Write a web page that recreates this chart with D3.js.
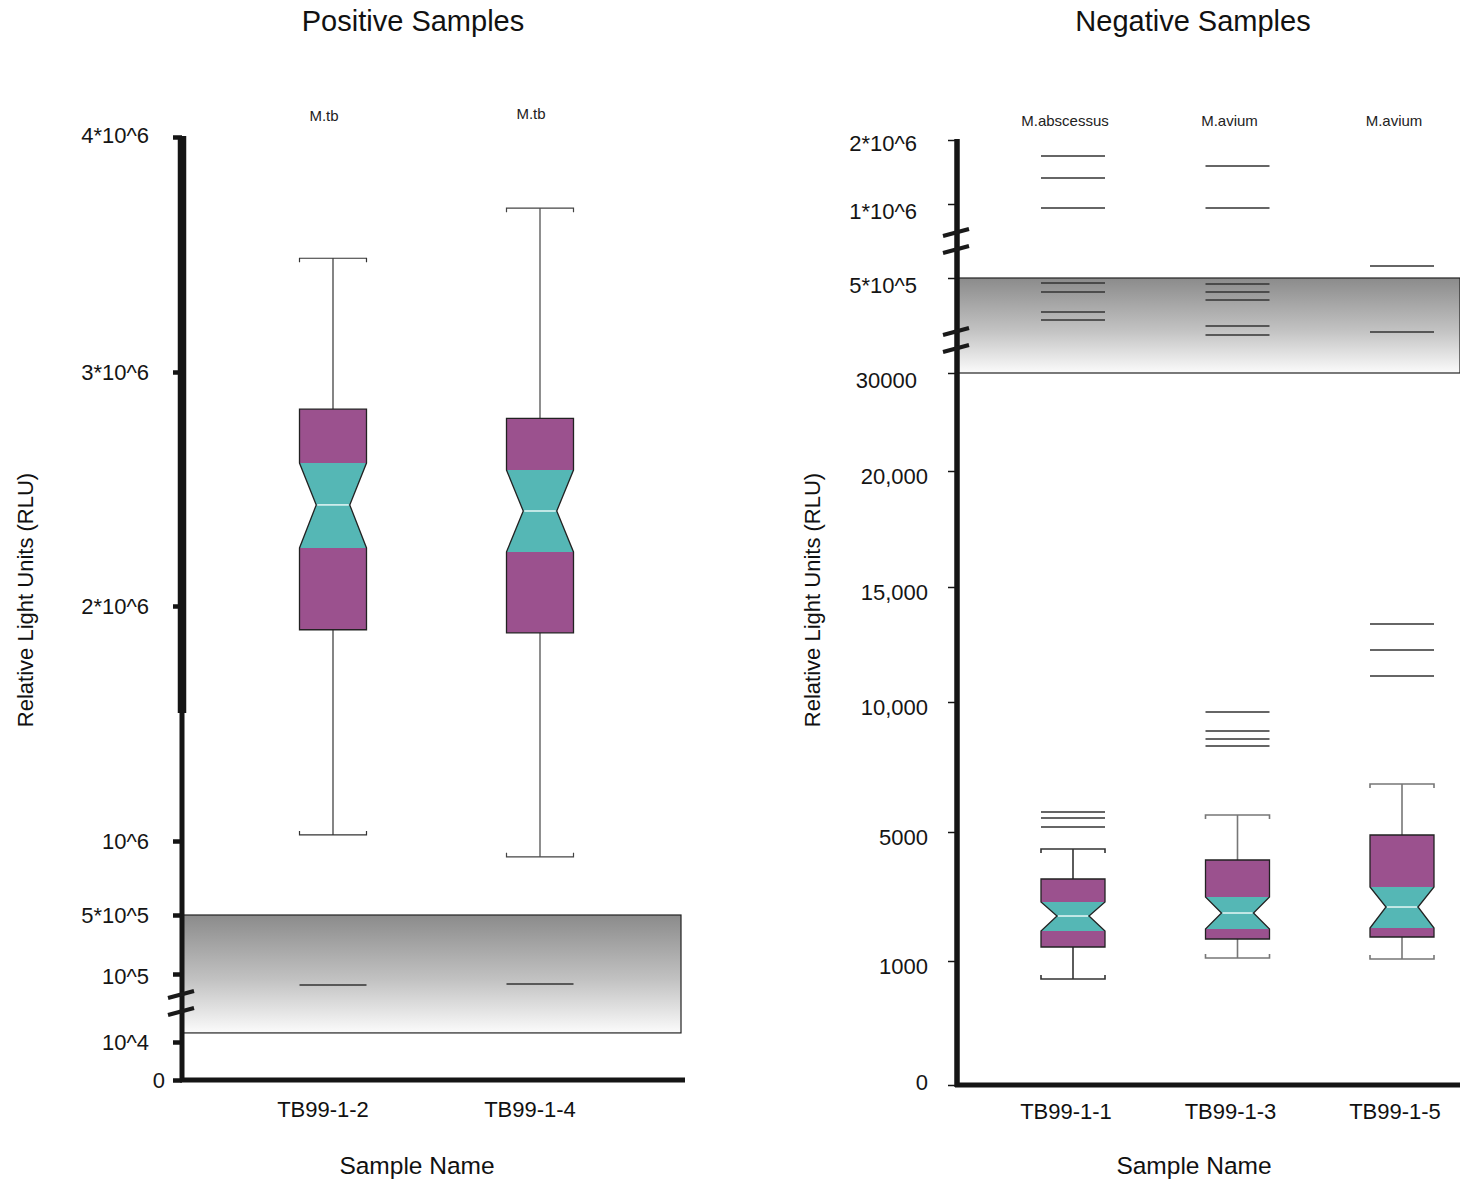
<!DOCTYPE html>
<html>
<head>
<meta charset="utf-8">
<script src="https://cdn.jsdelivr.net/npm/d3@7/dist/d3.min.js"></script>
<style>
  html, body { margin: 0; padding: 0; background: #fff; }
  svg { display: block; font-family: "Liberation Sans", Arial, sans-serif; }
</style>
</head>
<body>
<svg id="chart" width="1460" height="1180"></svg>
<script>
// ---------------- DATA ----------------
// Positive samples
const posSamples = ["TB99-1-2", "TB99-1-4"];
const posSpecies = ["M.tb", "M.tb"];
const posWhiskerLow  = [1026000, 893000];
const posQ1          = [1899000, 1886000];
const posNotchLow    = [2248000, 2231000];
const posMedian      = [2432000, 2406000];
const posNotchHigh   = [2611000, 2581000];
const posQ3          = [2841000, 2802000];
const posWhiskerHigh = [3484000, 3697000];
const posOutliers    = [[85400], [86800]];
const posTickValues  = [0, 10000, 100000, 500000, 1000000, 2000000, 3000000, 4000000];
const posTickLabels  = ["0", "10^4", "10^5", "5*10^5", "10^6", "2*10^6", "3*10^6", "4*10^6"];
const posBand        = [22000, 500000];
const posBreaks      = [60300];
const posThickAxis   = [1545000, 4000000];

// Negative samples
const negSamples = ["TB99-1-1", "TB99-1-3", "TB99-1-5"];
const negSpecies = ["M.abscessus", "M.avium", "M.avium"];
const negWhiskerLow  = [855, 1093, 1062];
const negQ1          = [1434, 1682, 1744];
const negNotchLow    = [1930, 1992, 2023];
const negMedian      = [2395, 2488, 2674];
const negNotchHigh   = [2829, 2984, 3295];
const negQ3          = [3543, 4132, 4907];
const negWhiskerHigh = [4473, 5654, 6846];
const negOutliers = [
  [5192, 5538, 5769, 292200, 331800, 430700, 475300, 973000, 1406000, 1750000],
  [8308, 8577, 8885, 9615, 218000, 262500, 391100, 430700, 470300, 973000, 1594000],
  [11130, 12261, 13391, 232800, 581000]
];
const negTickValues = [0, 1000, 5000, 10000, 15000, 20000, 30000, 500000, 1000000, 2000000];
const negTickLabels = ["0", "1000", "5000", "10,000", "15,000", "20,000", "30000", "5*10^5", "1*10^6", "2*10^6"];
const negBand   = [30000, 500000];
const negBreaks = [743000, 188300];

// ---------------- DRAWING ----------------
const svg = d3.select("#chart");
const defs = svg.append("defs");
const grad = defs.append("linearGradient").attr("id", "bandGrad")
  .attr("x1", 0).attr("y1", 0).attr("x2", 0).attr("y2", 1);
grad.append("stop").attr("offset", "0%").attr("stop-color", "#8b8b8b");
grad.append("stop").attr("offset", "55%").attr("stop-color", "#c2c2c2");
grad.append("stop").attr("offset", "100%").attr("stop-color", "#fbfbfb");

const PURPLE = "#9b518e";
const TEAL = "#55b7b5";

function drawPanel(cfg) {
  const g = svg.append("g");
  const y = d3.scaleLinear().domain(cfg.tickValues).range(cfg.yRange);
  const x = d3.scalePoint().domain(cfg.samples).range(cfg.xRange).padding(0);
  const ax = cfg.axisX;
  const halfW = cfg.boxWidth / 2;

  // gray band
  g.append("rect")
    .attr("x", ax).attr("y", y(cfg.band[1]))
    .attr("width", cfg.bandRight - ax)
    .attr("height", y(cfg.band[0]) - y(cfg.band[1]))
    .attr("fill", "url(#bandGrad)")
    .attr("stroke", "#222").attr("stroke-width", 1.2);

  // boxes
  cfg.samples.forEach((s, i) => {
    const cx = x(s);
    const col = g.append("g");
    const wc = cfg.whiskerColor[i];
    col.append("line").attr("x1", cx).attr("x2", cx)
      .attr("y1", y(cfg.q3[i])).attr("y2", y(cfg.wHigh[i]))
      .attr("stroke", wc).attr("stroke-width", cfg.whiskerWidth);
    col.append("line").attr("x1", cx).attr("x2", cx)
      .attr("y1", y(cfg.q1[i])).attr("y2", y(cfg.wLow[i]))
      .attr("stroke", wc).attr("stroke-width", cfg.whiskerWidth);
    const yt = y(cfg.wHigh[i]), yb = y(cfg.wLow[i]);
    col.append("path")
      .attr("d", `M${cx - halfW},${yt + 4}V${yt}H${cx + halfW}V${yt + 4}`)
      .attr("fill", "none").attr("stroke", wc).attr("stroke-width", cfg.whiskerWidth);
    col.append("path")
      .attr("d", `M${cx - halfW},${yb - 4}V${yb}H${cx + halfW}V${yb - 4}`)
      .attr("fill", "none").attr("stroke", wc).attr("stroke-width", cfg.whiskerWidth);

    const yQ3 = y(cfg.q3[i]), yQ1 = y(cfg.q1[i]);
    const yNH = y(cfg.notchHigh[i]), yNL = y(cfg.notchLow[i]), yM = y(cfg.median[i]);
    const nW = halfW * 0.5;
    col.append("rect").attr("x", cx - halfW).attr("y", yQ3)
      .attr("width", 2 * halfW).attr("height", yNH - yQ3).attr("fill", PURPLE);
    col.append("rect").attr("x", cx - halfW).attr("y", yNL)
      .attr("width", 2 * halfW).attr("height", yQ1 - yNL).attr("fill", PURPLE);
    col.append("path")
      .attr("d", `M${cx - halfW},${yNH}H${cx + halfW}L${cx + nW},${yM}L${cx + halfW},${yNL}H${cx - halfW}L${cx - nW},${yM}Z`)
      .attr("fill", TEAL);
    col.append("path")
      .attr("d", `M${cx - halfW},${yQ3}H${cx + halfW}V${yNH}L${cx + nW},${yM}L${cx + halfW},${yNL}V${yQ1}H${cx - halfW}V${yNL}L${cx - nW},${yM}L${cx - halfW},${yNH}Z`)
      .attr("fill", "none").attr("stroke", "#222").attr("stroke-width", 1.3);
    col.append("line").attr("x1", cx - nW + 1).attr("x2", cx + nW - 1)
      .attr("y1", yM).attr("y2", yM)
      .attr("stroke", "#e6f7f6").attr("stroke-width", 1.5);
    cfg.outliers[i].forEach(v => {
      col.append("line").attr("x1", cx - halfW).attr("x2", cx + halfW)
        .attr("y1", y(v)).attr("y2", y(v))
        .attr("stroke", "#333").attr("stroke-width", 1.4);
    });
    g.append("text").attr("x", cx + cfg.speciesShift).attr("y", cfg.speciesY[i])
      .attr("text-anchor", "middle").attr("font-size", 15).attr("fill", "#222")
      .text(cfg.species[i]);
    g.append("text").attr("x", cx + cfg.labelShift).attr("y", cfg.sampleY)
      .attr("text-anchor", "middle").attr("font-size", 22).attr("fill", "#111")
      .text(s);
  });

  // y axis ticks & labels
  const axis = d3.axisLeft(y)
    .tickValues(cfg.tickValues)
    .tickFormat((d, i) => cfg.tickLabels[i])
    .tickSize(cfg.tickLen).tickSizeOuter(0);
  const ag = g.append("g").attr("transform", `translate(${ax},0)`).call(axis);
  ag.select(".domain").remove();
  ag.selectAll(".tick line").attr("stroke", "#151515").attr("stroke-width", cfg.tickWidth);
  ag.selectAll(".tick text")
    .attr("font-size", 22).attr("fill", "#151515")
    .attr("font-family", "Liberation Sans, Arial, sans-serif")
    .attr("x", d => cfg.labelX(d))
    .attr("y", d => cfg.labelY(d));

  // axis lines
  g.append("line").attr("x1", ax).attr("x2", ax)
    .attr("y1", y(cfg.tickValues[cfg.tickValues.length - 1]) - 1).attr("y2", y(0) + 2)
    .attr("stroke", "#151515").attr("stroke-width", cfg.axisWidth);
  if (cfg.thick) {
    g.append("line").attr("x1", ax).attr("x2", ax)
      .attr("y1", y(cfg.thick[1]) - 1).attr("y2", y(cfg.thick[0]))
      .attr("stroke", "#151515").attr("stroke-width", 8.5);
  }
  g.append("line").attr("x1", ax - 2).attr("x2", cfg.xAxisRight)
    .attr("y1", y(0)).attr("y2", y(0))
    .attr("stroke", "#151515").attr("stroke-width", 5);

  // axis breaks
  cfg.breaks.forEach(b => {
    const c = y(b);
    g.append("line").attr("x1", ax - 14).attr("y1", c - 6).attr("x2", ax + 12).attr("y2", c - 13)
      .attr("stroke", "#1a1a1a").attr("stroke-width", 4);
    g.append("line").attr("x1", ax - 14).attr("y1", c + 11).attr("x2", ax + 12).attr("y2", c + 4)
      .attr("stroke", "#1a1a1a").attr("stroke-width", 4);
  });

  // titles
  svg.append("text").attr("x", cfg.titleX).attr("y", 31)
    .attr("text-anchor", "middle").attr("font-size", 29).attr("fill", "#111")
    .text(cfg.title);
  svg.append("text").attr("x", cfg.nameX).attr("y", 1174)
    .attr("text-anchor", "middle").attr("font-size", 24.5).attr("fill", "#111")
    .text("Sample Name");
  svg.append("text")
    .attr("transform", `translate(${cfg.yLabelX},600) rotate(-90)`)
    .attr("text-anchor", "middle").attr("font-size", 22).attr("fill", "#111")
    .text("Relative Light Units (RLU)");
}

drawPanel({
  samples: posSamples, species: posSpecies,
  wLow: posWhiskerLow, q1: posQ1, notchLow: posNotchLow, median: posMedian,
  notchHigh: posNotchHigh, q3: posQ3, wHigh: posWhiskerHigh, outliers: posOutliers,
  tickValues: posTickValues, tickLabels: posTickLabels,
  yRange: [1080, 1042, 974, 915, 841, 606, 372, 137],
  xRange: [333, 540], boxWidth: 67, labelShift: -10, speciesShift: -9,
  axisX: 182, axisWidth: 5, tickLen: 9, tickWidth: 4.5,
  labelX: d => d === 0 ? -17 : -33,
  labelY: d => d === 4000000 ? -2 : (d === 100000 ? 2 : 0),
  band: posBand, bandRight: 681, xAxisRight: 685,
  breaks: posBreaks, thick: posThickAxis,
  whiskerColor: ["#333", "#444"], whiskerWidth: 1.2,
  speciesY: [121, 119], sampleY: 1117,
  title: "Positive Samples", titleX: 413, nameX: 417, yLabelX: 33
});

drawPanel({
  samples: negSamples, species: negSpecies,
  wLow: negWhiskerLow, q1: negQ1, notchLow: negNotchLow, median: negMedian,
  notchHigh: negNotchHigh, q3: negQ3, wHigh: negWhiskerHigh, outliers: negOutliers,
  tickValues: negTickValues, tickLabels: negTickLabels,
  yRange: [1085, 961, 832, 702, 587, 471, 373, 278, 204, 140],
  xRange: [1073, 1402], boxWidth: 64, labelShift: -7, speciesShift: -8,
  axisX: 957, axisWidth: 5.5, tickLen: 9, tickWidth: 1.5,
  labelX: d => d >= 30000 ? -40 : -29,
  labelY: d => d === 0 ? -3 : (d === 2000000 ? 3 : (d >= 30000 ? 7 : 5)),
  band: negBand, bandRight: 1460, xAxisRight: 1460,
  breaks: negBreaks, thick: null,
  whiskerColor: ["#333", "#777", "#777"], whiskerWidth: 1.6,
  speciesY: [126, 126, 126], sampleY: 1119,
  title: "Negative Samples", titleX: 1193, nameX: 1194, yLabelX: 820
});
</script>
</body>
</html>
